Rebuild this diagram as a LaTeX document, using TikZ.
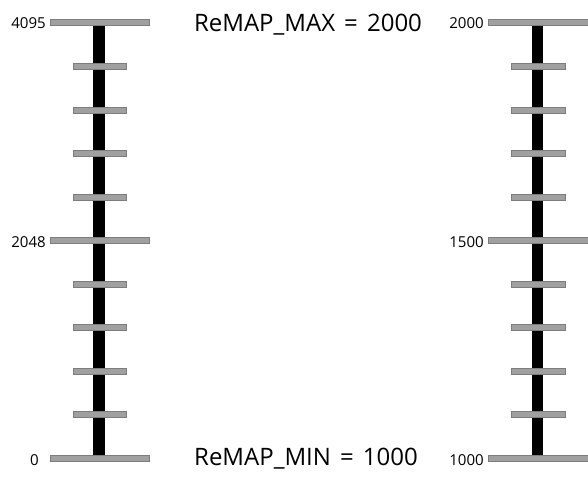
\documentclass[tikz,border=0pt]{standalone}
\usepackage{fontspec}
\setmainfont{Open Sans}
\definecolor{tickfill}{RGB}{160,160,160}
\definecolor{tickdraw}{RGB}{125,125,125}
\begin{document}
\begin{tikzpicture}[x=0.75pt,y=-0.75pt,
  bigtick/.style={fill=tickfill,draw=tickdraw,line width=0.75pt},
  smalltick/.style={fill=tickfill,draw=tickdraw,line width=0.75pt},
  spine/.style={fill=black},
  lbl/.style={font=\fontsize{11.3}{13}\selectfont,inner sep=0pt,anchor=east},
  big/.style={font=\fontsize{18}{22}\selectfont,inner sep=0pt}]
\useasboundingbox (0,0) rectangle (588,485);
% left scale
\fill[spine] (93,24) rectangle (105,457);
\foreach \i in {1,...,4,6,7,8,9} {
  \draw[smalltick] (73,{23+43.5*\i-3}) rectangle (126,{23+43.5*\i+3});
}
\foreach \i in {0,5,10} {
  \draw[bigtick] (50,{23+43.5*\i-3}) rectangle (149,{23+43.5*\i+3});
}
\node[lbl] (l4095) at (46,23) {4095};
\node[lbl] (l2048) at (46,242) {2048};
\node[lbl] (l0) at (39,460) {0};
% right scale
\fill[spine] (532,24) rectangle (543,457);
\foreach \i in {1,...,4,6,7,8,9} {
  \draw[smalltick] (511,{23+43.5*\i-3}) rectangle (565,{23+43.5*\i+3});
}
\foreach \i in {0,5,10} {
  \draw[bigtick] (488,{23+43.5*\i-3}) rectangle (590,{23+43.5*\i+3});
}
\node[lbl] (r2000) at (484,23) {2000};
\node[lbl] (r1500) at (484,242) {1500};
\node[lbl] (r1000) at (484,460) {1000};
% titles
\node[big] (remapmax) at (308,25) {ReMAP\_MAX\hspace{0.12em} = \hspace{0.12em}2000};
\node[big] (remapmin) at (306,459) {ReMAP\_MIN\hspace{0.12em} = \hspace{0.12em}1000};
\end{tikzpicture}
\end{document}
